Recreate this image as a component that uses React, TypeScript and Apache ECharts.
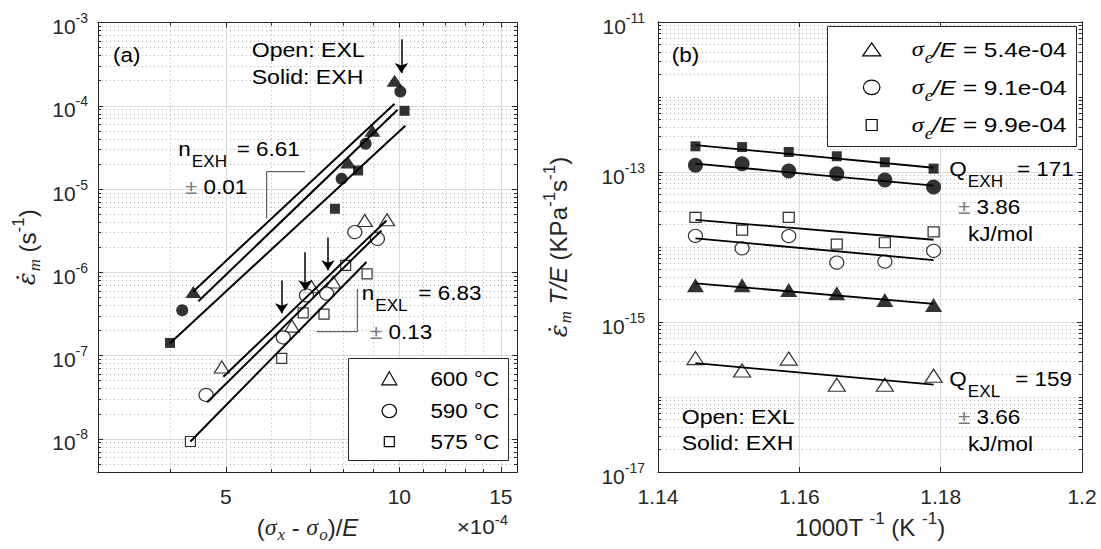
import { useEffect, useRef } from 'react';
import * as echarts from 'echarts';

const SANS = "'Liberation Sans', Arial, Helvetica, sans-serif";
const SERIF = "'Liberation Serif', 'Times New Roman', serif";
const MARK_SERIF = "'DejaVu Serif', 'Liberation Serif', serif";
const INK = '#262626';
const BLACK = '#000000';
const MAJOR_GRID = '#d9d9d9';
const MINOR_GRID = '#b0b0b0';

// ---- Panel (a): minimum creep rate (1/s) vs normalized stress (units of 1e-4) ----
const exl600Stress = [4.92, 6.51, 7.04, 7.68, 8.71, 9.52];
const exl600Rate = [7.3e-8, 2.26e-7, 6.7e-7, 7.65e-7, 4.2e-6, 4.28e-6];
const exl590Stress = [4.62, 6.29, 6.9, 7.48, 8.37, 9.16];
const exl590Rate = [3.37e-8, 1.65e-7, 5.3e-7, 5.56e-7, 3.04e-6, 2.53e-6];
const exl575Stress = [4.34, 6.25, 6.81, 7.4, 8.07, 8.79];
const exl575Rate = [9.3e-9, 9.25e-8, 3.26e-7, 3.14e-7, 1.21e-6, 9.6e-7];
const exh600Stress = [4.39, 8.15, 8.98, 9.81];
const exh600Rate = [5.8e-7, 2.09e-5, 5.0e-5, 2.0e-4];
const exh590Stress = [4.2, 7.94, 8.74, 10.04];
const exh590Rate = [3.5e-7, 1.33e-5, 3.5e-5, 1.48e-4];
const exh575Stress = [4.0, 7.73, 8.48, 10.21];
const exh575Rate = [1.42e-7, 5.8e-6, 1.67e-5, 8.7e-5];

// power-law fit lines, end points
const fitExh600Stress = [4.39, 9.81];
const fitExh600Rate = [5.9e-7, 1.06e-4];
const fitExh590Stress = [4.48, 9.93];
const fitExh590Rate = [4.5e-7, 8.95e-5];
const fitExh575Stress = [4.0, 10.24];
const fitExh575Rate = [1.41e-7, 5.75e-5];
const fitExl600Stress = [4.95, 9.5];
const fitExl600Rate = [5.57e-8, 4.2e-6];
const fitExl590Stress = [4.64, 9.31];
const fitExl590Rate = [2.75e-8, 3.18e-6];
const fitExl575Stress = [4.34, 8.77];
const fitExl575Rate = [9.3e-9, 1.33e-6];

// downward arrows: stress position, tail rate, tip rate
const arrowStress = [10.08, 6.25, 6.86, 7.52];
const arrowTail = [6.3e-4, 8.0e-7, 1.74e-6, 2.62e-6];
const arrowTip = [2.48e-4, 3.23e-7, 6.1e-7, 1.06e-6];

const stressRange = [3, 16];
const rateRangeA = [4e-9, 1e-3];
const stressTicks = [5, 10, 15];
const stressMinorTicks = [4, 6, 7, 8, 9, 11, 12, 13, 14];
const rateDecadesA = [-8, -7, -6, -5, -4, -3];
const tempLabels = ['600 °C', '590 °C', '575 °C'];

// ---- Panel (b): normalized creep rate vs 1000/T ----
const invT = [1.1453, 1.1519, 1.1585, 1.1653, 1.1721, 1.179];
const exh99 = [2.2e-13, 2.15e-13, 1.85e-13, 1.62e-13, 1.35e-13, 1.11e-13];
const exh91 = [1.23e-13, 1.29e-13, 1.03e-13, 9.5e-14, 7.8e-14, 6.3e-14];
const exh54 = [3.1e-15, 3.1e-15, 2.67e-15, 2.42e-15, 1.97e-15, 1.69e-15];
const exl99 = [2.48e-14, 1.68e-14, 2.48e-14, 1.09e-14, 1.14e-14, 1.59e-14];
const exl91 = [1.41e-14, 9.6e-15, 1.4e-14, 6.2e-15, 6.4e-15, 8.9e-15];
const exl54 = [3.3e-16, 2.26e-16, 3.25e-16, 1.46e-16, 1.46e-16, 1.92e-16];
const fitInvT = [1.1453, 1.179];
const fitExh99 = [2.28e-13, 1.14e-13];
const fitExh91 = [1.29e-13, 6.6e-14];
const fitExh54 = [3.28e-15, 1.75e-15];
const fitExl99 = [2.3e-14, 1.25e-14];
const fitExl91 = [1.3e-14, 6.7e-15];
const fitExl54 = [2.83e-16, 1.46e-16];
const invTRange = [1.14, 1.2];
const invTTicks = [1.14, 1.16, 1.18, 1.2];
const rateDecadesB = [-17, -15, -13, -11];
const rateRangeB = [1e-17, 1e-11];
const stressLevels = ['5.4e-04', '9.1e-04', '9.9e-04'];

const lg = (v: number) => Math.log10(v);

// minor log ticks (m x 10^k) inside a log10 range, skipping the major ones
function logMinor(lo: number, hi: number, major: number[]) {
  const out: number[] = [];
  for (let k = Math.floor(lo); k < Math.ceil(hi); k++) {
    for (let m = 1; m <= 9; m++) {
      const v = k + Math.log10(m);
      if (v > lo + 1e-9 && v < hi - 1e-9 && !major.some((t) => Math.abs(t - v) < 1e-9)) out.push(v);
    }
  }
  return out;
}

// rich-text styles: every token is middle-aligned on one line; unequal top/bottom
// padding moves a token's centre by half the difference (superscripts up, subscripts down)
function richSet(fs: number, color: string, o: { rise?: number; drop?: number; shift?: number; small?: number } = {}) {
  const rise = o.rise ?? 9;
  const drop = o.drop ?? 12;
  const shift = o.shift ?? 0;
  const small = o.small ?? Math.round(fs * 0.74);
  const pad = (off: number, padL: number) => (off >= 0 ? [2 * off, 0, 0, padL] : [0, 0, -2 * off, padL]);
  const tok = (size: number, off: number, extra: any = {}, padL = 0) => ({
    fontSize: size,
    lineHeight: size,
    fontFamily: SANS,
    color,
    fill: color,
    verticalAlign: 'middle',
    padding: pad(off, padL),
    ...extra,
  });
  return {
    b: tok(fs, shift),
    it: tok(fs, shift, { fontStyle: 'italic' }),
    g: tok(fs, shift, { fontStyle: 'italic', fontFamily: SERIF }),
    eps: tok(fs, shift, { fontStyle: 'italic', fontFamily: MARK_SERIF }),
    pm: tok(fs, shift, { color: '#7a7a7a', fill: '#7a7a7a' }),
    e9: tok(fs, shift, {}, 9),
    e10: tok(fs, shift, {}, 10),
    e13: tok(fs, shift, {}, 13),
    e14: tok(fs, shift, {}, 14),
    sup: tok(small, shift - rise),
    sub: tok(small, shift + drop, {}, 1),
    subi: tok(small, shift + drop, { fontStyle: 'italic', fontFamily: SERIF }, 1),
  };
}

function valueAxis(o: any) {
  return {
    type: 'value',
    gridIndex: o.grid,
    position: o.pos,
    min: o.min,
    max: o.max,
    axisLine: { show: true, onZero: false, lineStyle: { color: INK, width: 1 } },
    axisTick: {
      show: true,
      inside: true,
      length: o.tickLen,
      customValues: o.ticks,
      lineStyle: { color: INK, width: 1 },
    },
    axisLabel: o.labels
      ? {
          show: true,
          customValues: o.labels,
          formatter: o.fmt,
          margin: o.margin,
          color: INK,
          fontSize: 21,
          fontFamily: SANS,
          rich: o.rich,
          showMinLabel: true,
          showMaxLabel: true,
        }
      : { show: false },
    splitLine: o.split ? { show: true, lineStyle: o.split } : { show: false },
    name: o.name,
    nameLocation: 'middle',
    nameGap: o.nameGap,
    nameRotate: o.nameRotate,
    nameMoveOverlap: false,
    nameTextStyle: o.name ? { rich: o.nameRich, fontFamily: SANS, fontSize: 24, color: INK } : undefined,
  };
}

const majorSplit = { color: MAJOR_GRID, width: 1, type: 'solid' };
const minorSplit = { color: MINOR_GRID, width: 1, type: [1, 3] };

const openStyle = { color: '#ffffff', borderColor: BLACK, borderWidth: 1.2 };
const solidStyle = { color: BLACK, borderColor: BLACK, borderWidth: 0 };

function scatter(name: string, xi: number, yi: number, data: number[][], symbol: string, size: number[], open: boolean, extra: any = {}) {
  return {
    name,
    type: 'scatter',
    xAxisIndex: xi,
    yAxisIndex: yi,
    data,
    symbol,
    symbolSize: size,
    itemStyle: open ? openStyle : solidStyle,
    z: 3,
    silent: true,
    ...extra,
  };
}

function fitLine(name: string, xi: number, yi: number, data: number[][], width: number) {
  return {
    name,
    type: 'line',
    xAxisIndex: xi,
    yAxisIndex: yi,
    data,
    symbol: 'none',
    lineStyle: { color: BLACK, width },
    z: 4,
    silent: true,
  };
}

const logPts = (xs: number[], ys: number[]) => xs.map((x, i) => [lg(x), lg(ys[i])]);
const linLogPts = (xs: number[], ys: number[]) => xs.map((x, i) => [x, lg(ys[i])]);

function marker(kind: string, cx: number, cy: number, w: number, h: number) {
  const style = { fill: '#ffffff', stroke: BLACK, lineWidth: 1.2 };
  if (kind === 'triangle') {
    return {
      type: 'polygon',
      z: 101,
      shape: { points: [[cx, cy - h / 2], [cx + w / 2, cy + h / 2], [cx - w / 2, cy + h / 2]] },
      style,
    };
  }
  if (kind === 'circle') {
    return { type: 'ellipse', z: 101, shape: { cx, cy, rx: w / 2, ry: h / 2 }, style };
  }
  return { type: 'rect', z: 101, shape: { x: cx - w / 2, y: cy - h / 2, width: w, height: h }, style };
}

function txt(x: number, y: number, text: string, rich: any, align = 'left', sx = 1.07) {
  return {
    type: 'text',
    x,
    y,
    scaleX: sx,
    z: 102,
    silent: true,
    style: {
      text,
      rich,
      align,
      textAlign: align,
      verticalAlign: 'middle',
      textVerticalAlign: 'middle',
      fill: INK,
      font: `21px ${SANS}`,
    },
  };
}

function buildOption() {
  const annRich = richSet(21, BLACK, { drop: 13.5, small: 16 });
  const legRich = richSet(21, BLACK, { drop: 9, small: 16 });
  const tickRich = richSet(21, INK, { rise: 8.5, shift: 4, small: 14 });
  const scaleRich = richSet(21, INK, { rise: 7, small: 14 });
  const nameRich = richSet(24, INK, { rise: 9, drop: 7, small: 17 });
  const expFmt = (v: number) => `{b|10}{sup|${Math.round(v)}}`;

  const aXmin = lg(stressRange[0]);
  const aXmax = lg(stressRange[1]);
  const aYmin = lg(rateRangeA[0]);
  const aYmax = lg(rateRangeA[1]);
  const bYmin = lg(rateRangeB[0]);
  const bYmax = lg(rateRangeB[1]);
  const stressMajor = stressTicks.map(lg);
  const stressMinor = stressMinorTicks.map(lg);
  const rateMinorA = logMinor(aYmin, aYmax, rateDecadesA);
  const rateMinorB = logMinor(bYmin, bYmax, rateDecadesB);

  const xAxis = [
    valueAxis({
      grid: 0, pos: 'bottom', min: aXmin, max: aXmax, ticks: stressMajor, tickLen: 5,
      labels: stressMajor, fmt: (v: number) => String(Math.round(Math.pow(10, v))), margin: 14,
      split: majorSplit,
      name: '{b|(}{g|σ}{subi|x}{b| - }{g|σ}{subi|o}{b|)/}{it|E}', nameGap: 43, nameRich,
    }),
    valueAxis({ grid: 0, pos: 'bottom', min: aXmin, max: aXmax, ticks: stressMinor, tickLen: 3, split: minorSplit }),
    valueAxis({ grid: 0, pos: 'top', min: aXmin, max: aXmax, ticks: stressMajor, tickLen: 5 }),
    valueAxis({ grid: 0, pos: 'top', min: aXmin, max: aXmax, ticks: stressMinor, tickLen: 3 }),
    valueAxis({
      grid: 1, pos: 'bottom', min: invTRange[0], max: invTRange[1], ticks: invTTicks, tickLen: 5,
      labels: invTTicks, fmt: (v: number) => String(Math.round(v * 100) / 100), margin: 14,
      split: majorSplit,
      name: '{b|1000T }{sup|-1}{b| (K }{sup|-1}{b|)}', nameGap: 43, nameRich,
    }),
    valueAxis({ grid: 1, pos: 'top', min: invTRange[0], max: invTRange[1], ticks: invTTicks, tickLen: 5 }),
  ];

  const yAxis = [
    valueAxis({
      grid: 0, pos: 'left', min: aYmin, max: aYmax, ticks: rateDecadesA, tickLen: 5,
      labels: rateDecadesA, fmt: expFmt, rich: tickRich, margin: 10, split: majorSplit,
      name: '{eps|ε̇}{subi|m}{b| (s}{sup|-1}{b|)}', nameGap: 59, nameRotate: 90, nameRich,
    }),
    valueAxis({ grid: 0, pos: 'left', min: aYmin, max: aYmax, ticks: rateMinorA, tickLen: 3, split: minorSplit }),
    valueAxis({ grid: 0, pos: 'right', min: aYmin, max: aYmax, ticks: rateDecadesA, tickLen: 5 }),
    valueAxis({ grid: 0, pos: 'right', min: aYmin, max: aYmax, ticks: rateMinorA, tickLen: 3 }),
    valueAxis({
      grid: 1, pos: 'left', min: bYmin, max: bYmax, ticks: rateDecadesB, tickLen: 5,
      labels: rateDecadesB, fmt: expFmt, rich: tickRich, margin: 13, split: majorSplit,
      name: '{eps|ε̇}{subi|m}{it| T/E}{b| (KPa}{sup|-1}{b|s}{sup|-1}{b|)}', nameGap: 87.5, nameRotate: 90, nameRich,
    }),
    valueAxis({ grid: 1, pos: 'left', min: bYmin, max: bYmax, ticks: rateMinorB, tickLen: 3, split: minorSplit }),
    valueAxis({ grid: 1, pos: 'right', min: bYmin, max: bYmax, ticks: rateDecadesB, tickLen: 5 }),
    valueAxis({ grid: 1, pos: 'right', min: bYmin, max: bYmax, ticks: rateMinorB, tickLen: 3 }),
  ];

  const arrows = {
    silent: true,
    symbol: ['none', 'arrow'],
    symbolSize: 10,
    label: { show: false },
    lineStyle: { color: BLACK, width: 1.5, type: 'solid' },
    emphasis: { disabled: true },
    data: arrowStress.map((s, i) => [
      { coord: [lg(s), lg(arrowTail[i])] },
      { coord: [lg(s), lg(arrowTip[i])] },
    ]),
  };

  const series = [
    // panel (a)
    scatter('EXL 600 °C', 0, 0, logPts(exl600Stress, exl600Rate), 'triangle', [15, 12], true, { markLine: arrows }),
    scatter('EXL 590 °C', 0, 0, logPts(exl590Stress, exl590Rate), 'circle', [14, 13], true),
    scatter('EXL 575 °C', 0, 0, logPts(exl575Stress, exl575Rate), 'rect', [10, 10], true),
    scatter('EXH 600 °C', 0, 0, logPts(exh600Stress, exh600Rate), 'triangle', [16, 12], false),
    scatter('EXH 590 °C', 0, 0, logPts(exh590Stress, exh590Rate), 'circle', [12, 12], false),
    scatter('EXH 575 °C', 0, 0, logPts(exh575Stress, exh575Rate), 'rect', [10, 10], false),
    fitLine('fit EXH 600', 0, 0, logPts(fitExh600Stress, fitExh600Rate), 2),
    fitLine('fit EXH 590', 0, 0, logPts(fitExh590Stress, fitExh590Rate), 2),
    fitLine('fit EXH 575', 0, 0, logPts(fitExh575Stress, fitExh575Rate), 2),
    fitLine('fit EXL 600', 0, 0, logPts(fitExl600Stress, fitExl600Rate), 2),
    fitLine('fit EXL 590', 0, 0, logPts(fitExl590Stress, fitExl590Rate), 2),
    fitLine('fit EXL 575', 0, 0, logPts(fitExl575Stress, fitExl575Rate), 2),
    // panel (b)
    scatter('EXH 9.9e-04', 4, 4, linLogPts(invT, exh99), 'rect', [10, 10], false),
    scatter('EXH 9.1e-04', 4, 4, linLogPts(invT, exh91), 'circle', [15, 15], false),
    scatter('EXH 5.4e-04', 4, 4, linLogPts(invT, exh54), 'triangle', [17, 14], false),
    scatter('EXL 9.9e-04', 4, 4, linLogPts(invT, exl99), 'rect', [11, 10], true),
    scatter('EXL 9.1e-04', 4, 4, linLogPts(invT, exl91), 'circle', [14, 13], true),
    scatter('EXL 5.4e-04', 4, 4, linLogPts(invT, exl54), 'triangle', [17, 13], true),
    fitLine('fit EXH 9.9e-04', 4, 4, linLogPts(fitInvT, fitExh99), 1.8),
    fitLine('fit EXH 9.1e-04', 4, 4, linLogPts(fitInvT, fitExh91), 1.8),
    fitLine('fit EXH 5.4e-04', 4, 4, linLogPts(fitInvT, fitExh54), 1.8),
    fitLine('fit EXL 9.9e-04', 4, 4, linLogPts(fitInvT, fitExl99), 1.8),
    fitLine('fit EXL 9.1e-04', 4, 4, linLogPts(fitInvT, fitExl91), 1.8),
    fitLine('fit EXL 5.4e-04', 4, 4, linLogPts(fitInvT, fitExl54), 1.8),
  ];

  const legendA = [
    { type: 'rect', z: 100, shape: { x: 348.5, y: 358.5, width: 160, height: 102 }, style: { fill: '#ffffff', stroke: INK, lineWidth: 1 } },
    marker('triangle', 389.3, 378.3, 15, 13),
    marker('circle', 389.3, 411, 14.5, 13.5),
    marker('rect', 389.3, 441.7, 10, 10),
    ...tempLabels.map((t, i) => txt(499.3, [378.3, 411, 441.7][i], `{b|${t}}`, annRich, 'right')),
  ];

  const legendB = [
    { type: 'rect', z: 100, shape: { x: 827.5, y: 26.5, width: 249, height: 120 }, style: { fill: '#ffffff', stroke: INK, lineWidth: 1 } },
    marker('triangle', 871.7, 49.3, 18, 13),
    marker('circle', 871.7, 87.3, 16.5, 14.5),
    marker('rect', 871.7, 125, 11, 11),
    ...stressLevels.map((s, i) =>
      txt(911.7, [49.3, 87.3, 125][i], `{g|σ}{subi|e}{it|/E}{b| = ${s}}`, legRich, 'left', 1.16),
    ),
  ];

  const notes = [
    txt(113, 55, '{b|(a)}', annRich),
    txt(251.7, 50, '{b|Open: EXL}', annRich, 'left', 1.1),
    txt(251.7, 77, '{b|Solid: EXH}', annRich, 'left', 1.1),
    txt(178.3, 148.5, '{b|n}{sub|EXH}{e9|= 6.61}', annRich),
    txt(185, 186.7, '{pm|±}{b| 0.01}', annRich),
    txt(361.7, 292.5, '{b|n}{sub|EXL}{e10|= 6.83}', annRich),
    txt(370, 331.7, '{pm|±}{b| 0.13}', annRich),
    txt(456.7, 527, '{b|×10}{sup|-4}', scaleRich),
    txt(671.7, 55, '{b|(b)}', annRich),
    txt(949.3, 168.3, '{b|Q}{sub|EXH}{e13|= 171}', annRich),
    txt(958, 206.7, '{pm|±}{b| 3.86}', annRich),
    txt(968, 233.3, '{b|kJ/mol}', annRich),
    txt(949.3, 378.3, '{b|Q}{sub|EXL}{e14|= 159}', annRich),
    txt(958, 416.7, '{pm|±}{b| 3.66}', annRich),
    txt(968, 443.3, '{b|kJ/mol}', annRich),
    txt(681.7, 416.7, '{b|Open: EXL}', annRich, 'left', 1.1),
    txt(681.7, 443.3, '{b|Solid: EXH}', annRich, 'left', 1.1),
    {
      type: 'polyline', z: 100, silent: true,
      shape: { points: [[266.7, 218.3], [266.7, 171.7], [305, 171.7]] },
      style: { stroke: '#404040', lineWidth: 1, fill: null },
    },
    {
      type: 'polyline', z: 100, silent: true,
      shape: { points: [[316.7, 331.7], [357.3, 331.7], [357.3, 289]] },
      style: { stroke: '#404040', lineWidth: 1, fill: null },
    },
  ];

  return {
    animation: false,
    backgroundColor: '#ffffff',
    grid: [
      { left: 98, top: 22.5, width: 419, height: 449.5, containLabel: false, outerBoundsMode: 'none' },
      { left: 658, top: 22, width: 424, height: 450, containLabel: false, outerBoundsMode: 'none' },
    ],
    xAxis,
    yAxis,
    series,
    graphic: { elements: [...legendA, ...legendB, ...notes] },
  };
}

export default function App() {
  const ref = useRef<HTMLDivElement>(null);
  useEffect(() => {
    if (!ref.current) return;
    const chart = echarts.init(ref.current, null, { renderer: 'svg' });
    chart.setOption(buildOption() as any);
    return () => chart.dispose();
  }, []);
  return (
    <div
      ref={ref}
      style={{ position: 'absolute', left: 0, top: 0, width: 1101, height: 549, background: '#ffffff' }}
    />
  );
}
